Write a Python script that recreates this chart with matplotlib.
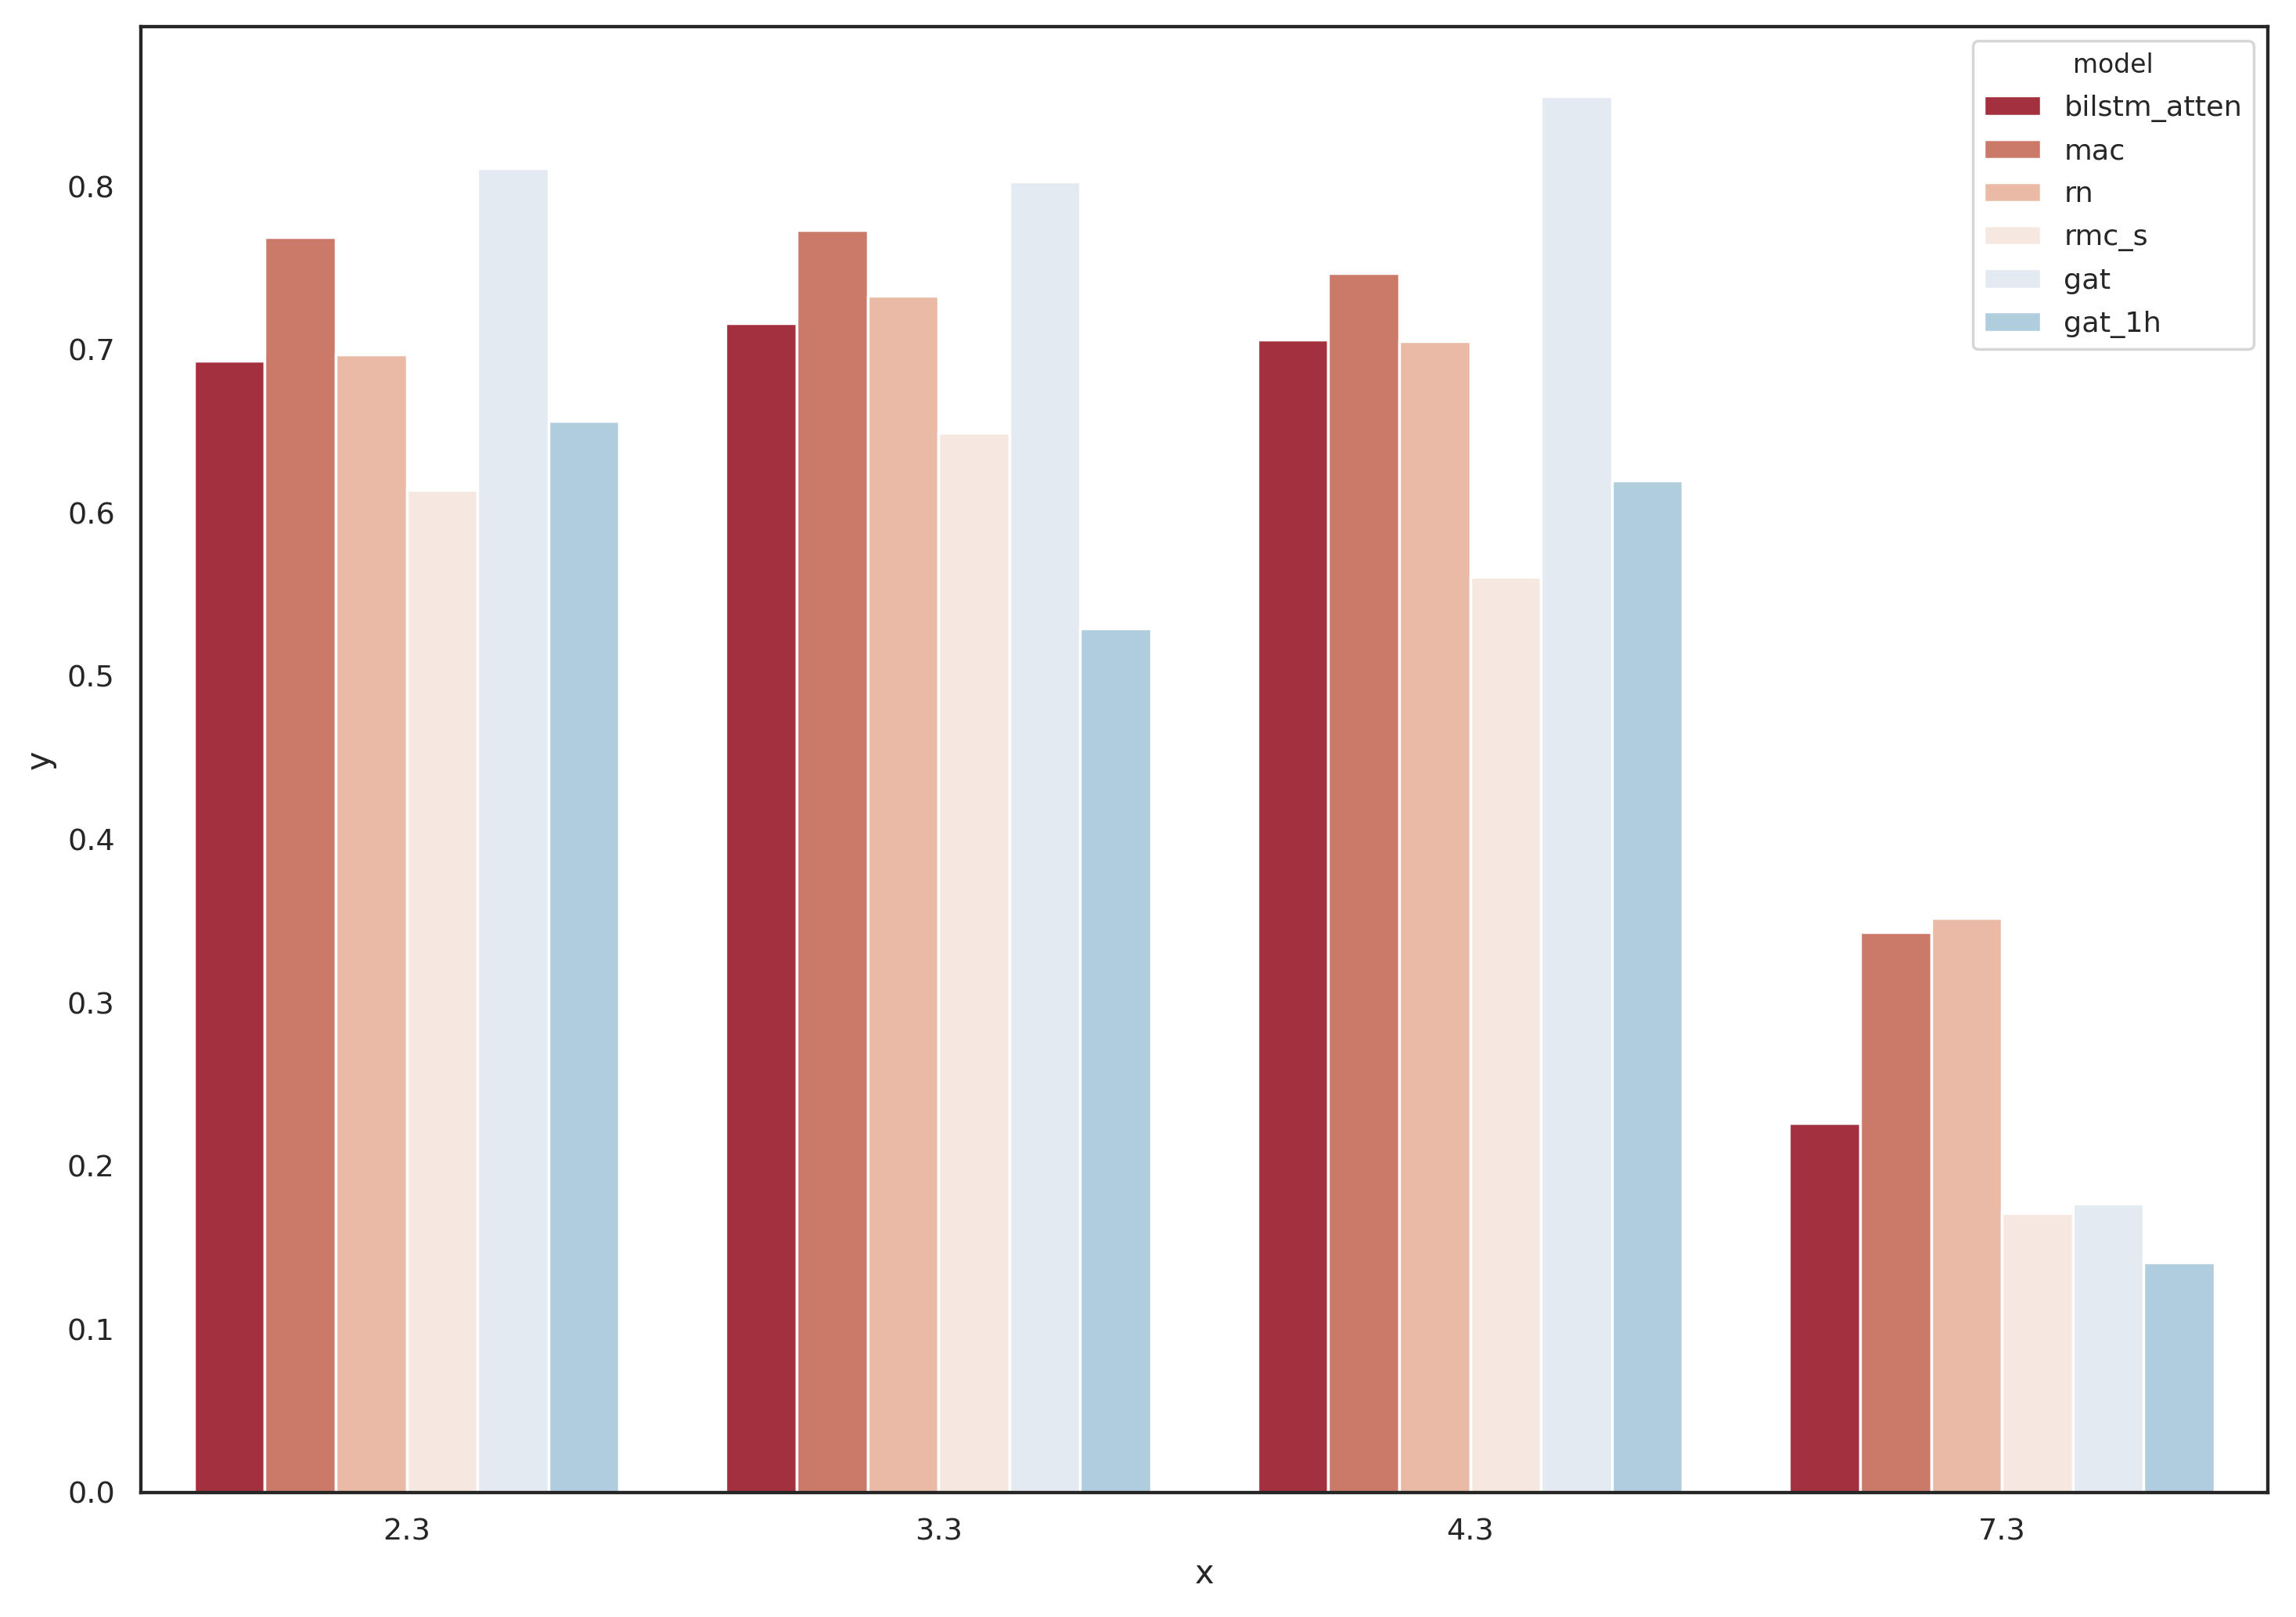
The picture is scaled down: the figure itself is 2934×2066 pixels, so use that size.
import numpy as np
import pandas as pd
import matplotlib
matplotlib.use("Agg")
import matplotlib.pyplot as plt
import seaborn as sns

# data
x_labels = ["2.3", "3.3", "4.3", "7.3"]
models = ["bilstm_atten", "mac", "rn", "rmc_s", "gat", "gat_1h"]

bilstm_atten = [0.693, 0.716, 0.706, 0.226]
mac = [0.769, 0.773, 0.747, 0.343]
rn = [0.697, 0.733, 0.705, 0.352]
rmc_s = [0.614, 0.649, 0.561, 0.171]
gat = [0.811, 0.803, 0.855, 0.177]
gat_1h = [0.656, 0.529, 0.620, 0.141]

series = [bilstm_atten, mac, rn, rmc_s, gat, gat_1h]

rows = []
for m, vals in zip(models, series):
    for xl, v in zip(x_labels, vals):
        rows.append({"x": xl, "y": v, "model": m})
df = pd.DataFrame(rows)

# colours
colors = ["#a3303e", "#cb7a6a", "#ebbaa6", "#f6e8e0", "#e3eaf1", "#b0cddd"]

sns.set_theme(style="white")
plt.rcParams["font.family"] = ["DejaVu Sans"]

fig, ax = plt.subplots(figsize=(11.736, 8.264), dpi=250)
sns.barplot(data=df, x="x", y="y", hue="model", order=x_labels,
            hue_order=models, palette=colors, saturation=1, ax=ax,
            edgecolor="white", linewidth=1.0)

ax.legend(title="model", loc="upper right", fontsize=10.5, title_fontsize=9.5,
          labelspacing=0.57)
ax.set_xlabel("x", fontsize=12)
ax.set_ylabel("y", fontsize=12)

fig.subplots_adjust(left=0.0613, right=0.9877, top=0.9835, bottom=0.0770)
fig.savefig("out.png", dpi=250)
